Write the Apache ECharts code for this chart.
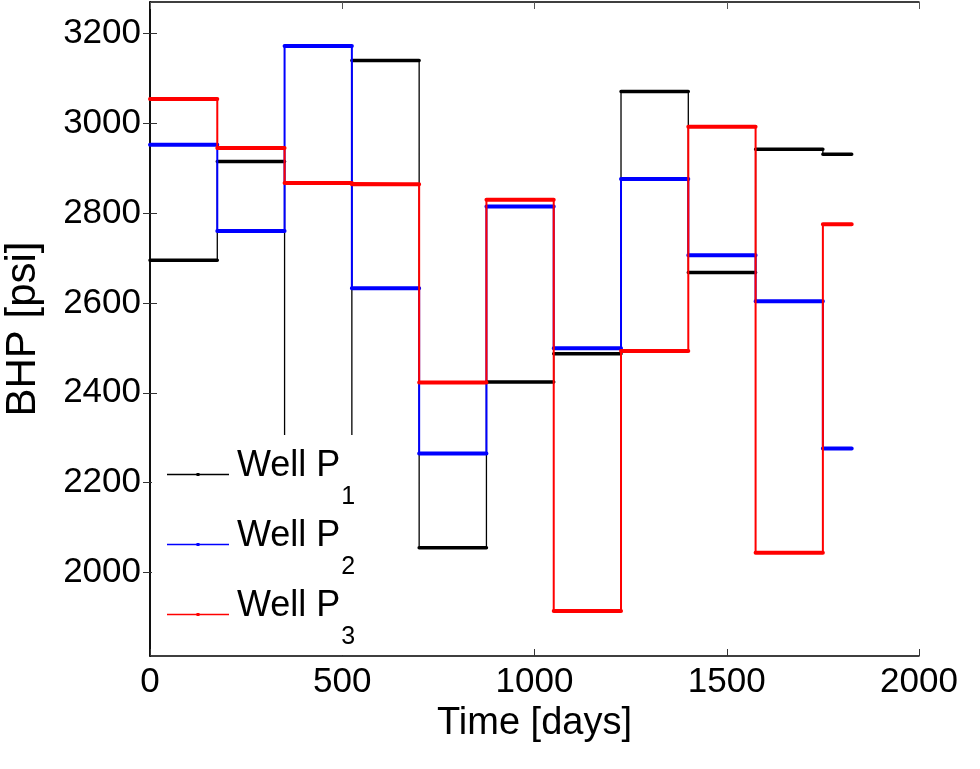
<!DOCTYPE html>
<html>
<head>
<meta charset="utf-8">
<script src="https://cdn.jsdelivr.net/npm/echarts@6/dist/echarts.min.js"></script>
<style>
    html, body { margin: 0; padding: 0; background: #fff; }
    #main { width: 980px; height: 769px; }
</style>
</head>
<body>
<div id="main"></div>
<script>
// control step start times [days], last entry is end of simulation
var times = [0, 175, 350, 525, 700, 875, 1050, 1225, 1400, 1575, 1750, 1825];

// BHP per control step [psi]
var bhpP1 = [2695, 2915, 2200, 3140, 2055, 2424, 2487, 3071, 2668, 2942, 2931];
var bhpP2 = [2952, 2760, 3172, 2633, 2265, 2815, 2499, 2876, 2706, 2604, 2276];
var bhpP3 = [3054, 2945, 2867, 2864, 2423, 2830, 1914, 2493, 2992, 2044, 2775];

var wellNames = ['Well P1', 'Well P2', 'Well P3'];
var wellColors = ['#000000', '#0000ff', '#ff0000'];

var xTicks = [0, 500, 1000, 1500, 2000];
var yTicks = [2000, 2200, 2400, 2600, 2800, 3000, 3200];

var font = 'Liberation Sans, Arial, Helvetica, sans-serif';

// step line: each value held until next time
function stepData(vals) {
    var d = [];
    for (var i = 0; i < vals.length; i++) {
        d.push([times[i], vals[i]]);
    }
    d.push([times[vals.length], vals[vals.length - 1]]);
    return d;
}

// only the flat parts (they look heavier in the original because of markers)
function flatData(vals) {
    var d = [];
    for (var i = 0; i < vals.length; i++) {
        d.push([times[i], vals[i]]);
        d.push([times[i + 1], vals[i]]);
        d.push([times[i + 1], '-']);
    }
    return d;
}

function plain(v) {
    return String(v);
}

var wells = [bhpP1, bhpP2, bhpP3];
var vertWidth = [1.3, 2, 2];
var flatWidth = [3.5, 4, 4];
var series = [];
for (var k = 0; k < wells.length; k++) {
    series.push({
        name: wellNames[k],
        type: 'line',
        step: 'end',
        data: stepData(wells[k]),
        showSymbol: false,
        color: wellColors[k],
        lineStyle: { color: wellColors[k], width: vertWidth[k] },
        silent: true
    });
    series.push({
        name: wellNames[k] + ' flat',
        type: 'line',
        data: flatData(wells[k]),
        showSymbol: false,
        connectNulls: false,
        color: wellColors[k],
        lineStyle: { color: wellColors[k], width: flatWidth[k], cap: 'round' },
        silent: true
    });
}

var myChart = echarts.init(document.getElementById('main'));

var option = {
    animation: false,
    backgroundColor: '#fff',
    grid: {
        left: 150,
        right: 61,
        top: 2,
        bottom: 113,
        containLabel: false,
        outerBoundsMode: 'none'
    },
    legend: {
        data: wellNames,
        orient: 'vertical',
        left: 152,
        top: 435,
        padding: [13, 14, 5, 15],
        backgroundColor: '#fff',
        itemWidth: 62,
        itemHeight: 6,
        itemGap: 8,
        icon: 'path://M0,2.2 L62,2.2 L62,3.8 L0,3.8 Z M29.5,1.5 L32.5,1.5 L32.5,4.5 L29.5,4.5 Z',
        formatter: function (name) {
            return '{m|Well P}{s|' + name.slice(-1) + '}';
        },
        textStyle: {
            color: '#000',
            fontFamily: font,
            fontSize: 36,
            rich: {
                m: { fontFamily: font, fontSize: 36, color: '#000', padding: [0, 0, 17, 3] },
                s: { fontFamily: font, fontSize: 25, color: '#000', padding: [46, 0, 0, 1] }
            }
        }
    },
    xAxis: [
        {
            type: 'value',
            min: 0,
            max: 2000,
            interval: 500,
            name: 'Time [days]',
            nameLocation: 'middle',
            nameGap: 43,
            nameTextStyle: { color: '#000', fontFamily: font, fontSize: 38 },
            axisLine: { show: true, lineStyle: { color: '#000', width: 1.5 } },
            axisTick: { show: true, inside: true, length: 7, lineStyle: { color: '#333', width: 1 } },
            axisLabel: { color: '#000', fontFamily: font, fontSize: 35, margin: 9, formatter: plain },
            splitLine: { show: false }
        },
        {
            type: 'value',
            position: 'top',
            min: 0,
            max: 2000,
            interval: 500,
            axisLine: { show: true, lineStyle: { color: '#000', width: 1.5 } },
            axisTick: { show: true, inside: true, length: 7, lineStyle: { color: '#555', width: 1 } },
            axisLabel: { show: false },
            splitLine: { show: false }
        }
    ],
    yAxis: [
        {
            type: 'value',
            min: 1814,
            max: 3270,
            name: 'BHP [psi]',
            nameLocation: 'middle',
            nameGap: 106,
            nameTextStyle: { color: '#000', fontFamily: font, fontSize: 42 },
            axisLine: { show: true, lineStyle: { color: '#000', width: 1.5 } },
            axisTick: { show: true, inside: true, length: 7, customValues: yTicks, lineStyle: { color: '#333', width: 1 } },
            axisLabel: { color: '#000', fontFamily: font, fontSize: 35, margin: 9, customValues: yTicks, formatter: plain },
            splitLine: { show: false }
        },
        {
            type: 'value',
            position: 'right',
            min: 1814,
            max: 3270,
            axisLine: { show: true, lineStyle: { color: '#000', width: 1.5 } },
            axisTick: { show: true, inside: true, length: 7, customValues: yTicks, lineStyle: { color: '#333', width: 1 } },
            axisLabel: { show: false },
            splitLine: { show: false }
        }
    ],
    series: series
};
myChart.setOption(option);
</script>
</body>
</html>
